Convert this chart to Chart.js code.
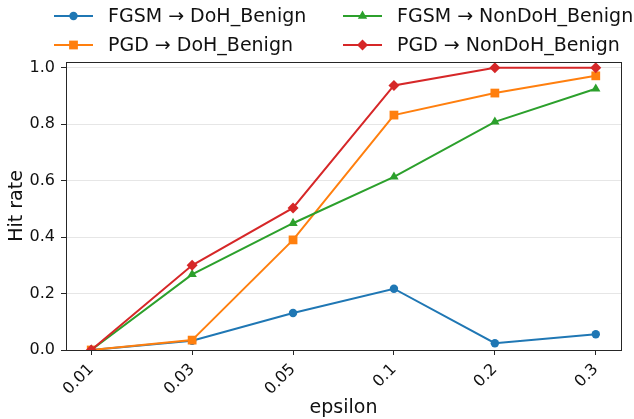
<!DOCTYPE html>
<html>
<head>
<meta charset="utf-8">
<script src="https://cdn.jsdelivr.net/npm/chart.js@4/dist/chart.umd.min.js"></script>
<style>
  html, body { margin: 0; padding: 0; background: #fff; }
  #wrap { width: 634px; height: 419px; }
</style>
</head>
<body>
<div id="wrap"><canvas id="c" width="634" height="419"></canvas></div>
<script>
// epsilon values on the x axis
const epsLabels = ['0.01', '0.03', '0.05', '0.1', '0.2', '0.3'];

// hit rates
const fgsmDoh = [0.0, 0.033, 0.131, 0.217, 0.024, 0.056];
const pgdDoh = [0.0, 0.035, 0.390, 0.832, 0.910, 0.971];
const fgsmNonDoh = [0.0, 0.268, 0.449, 0.613, 0.808, 0.925];
const pgdNonDoh = [0.0, 0.300, 0.503, 0.937, 1.0, 1.0];

const yTicks = [0, 0.2, 0.4, 0.6, 0.8, 1.0];

const FONT = 'DejaVu Sans';

function toPoints(arr) {
    return arr.map((v, i) => ({ x: i, y: v }));
}

function series(label, values, color, style, radius, order) {
    return {
        label: label,
        data: toPoints(values),
        borderColor: color,
        backgroundColor: color,
        borderWidth: 2,
        pointStyle: style,
        pointRadius: radius,
        pointBorderWidth: 0,
        pointHoverRadius: radius,
        fill: false,
        tension: 0,
        order: order
    };
}

const datasets = [
    series('FGSM → DoH_Benign', fgsmDoh, '#1f77b4', 'circle', 4.2, 3),
    series('PGD → DoH_Benign', pgdDoh, '#ff7f0e', 'rect', 6.2, 2),
    series('FGSM → NonDoH_Benign', fgsmNonDoh, '#2ca02c', 'triangle', 5.4, 1),
    series('PGD → NonDoH_Benign', pgdNonDoh, '#d62728', 'rectRot', 5.5, 0)
];

// legend slots, matplotlib ncol=2 (column-wise fill)
const legendSlots = [
    { x: 54, y: 16 }, { x: 54, y: 45 },
    { x: 343, y: 16 }, { x: 343, y: 45 }
];

const frameAndLegend = {
    id: 'frameAndLegend',
    afterDraw(chart) {
        const ctx = chart.ctx;
        const a = chart.chartArea;
        ctx.save();
        ctx.strokeStyle = '#262626';
        ctx.lineWidth = 1;
        ctx.strokeRect(Math.round(a.left) + 0.5, Math.round(a.top) + 0.5,
            Math.round(a.right - a.left), Math.round(a.bottom - a.top));

        ctx.font = '19px "' + FONT + '"';
        ctx.textBaseline = 'middle';
        chart.data.datasets.forEach((ds, i) => {
            const s = legendSlots[i];
            ctx.strokeStyle = ds.borderColor;
            ctx.lineWidth = 2;
            ctx.beginPath();
            ctx.moveTo(s.x, s.y);
            ctx.lineTo(s.x + 39, s.y);
            ctx.stroke();
            ctx.fillStyle = ds.backgroundColor;
            Chart.helpers.drawPoint(ctx, {
                pointStyle: ds.pointStyle,
                radius: ds.pointRadius,
                borderWidth: 0
            }, s.x + 19.5, s.y);
            ctx.fillStyle = '#111';
            ctx.fillText(ds.label, s.x + 54, s.y + 1);
        });
        ctx.restore();
    }
};

new Chart(document.getElementById('c'), {
    type: 'line',
    data: { datasets: datasets },
    options: {
        responsive: false,
        animation: false,
        layout: { padding: { top: 62, right: 13, left: 0, bottom: 0 } },
        plugins: {
            legend: { display: false },
            tooltip: { enabled: false }
        },
        scales: {
            x: {
                type: 'linear',
                min: -0.25,
                max: 5.25,
                afterBuildTicks: (scale) => {
                    scale.ticks = epsLabels.map((_, i) => ({ value: i }));
                },
                afterFit: (scale) => { scale.height = 69; },
                ticks: {
                    autoSkip: false,
                    maxRotation: 45,
                    minRotation: 45,
                    color: '#111',
                    padding: 5,
                    font: { family: FONT, size: 16 },
                    callback: (v) => epsLabels[v]
                },
                grid: {
                    drawOnChartArea: false,
                    drawTicks: true,
                    tickLength: 5,
                    tickColor: '#262626'
                },
                border: { display: true, color: '#262626' },
                title: {
                    display: true,
                    text: 'epsilon',
                    color: '#111',
                    padding: 0,
                    font: { family: FONT, size: 19 }
                }
            },
            y: {
                min: 0,
                max: 1.02,
                afterBuildTicks: (scale) => {
                    scale.ticks = yTicks.map(v => ({ value: v }));
                },
                afterFit: (scale) => { scale.width = 66; },
                ticks: {
                    color: '#111',
                    padding: 6,
                    font: { family: FONT, size: 16 },
                    callback: (v) => v.toFixed(1)
                },
                grid: {
                    color: '#e6e6e6',
                    lineWidth: 1,
                    tickLength: 5,
                    tickColor: '#262626'
                },
                border: { display: true, color: '#262626' },
                title: {
                    display: true,
                    text: 'Hit rate',
                    color: '#111',
                    padding: { top: 6, bottom: 0 },
                    font: { family: FONT, size: 19 }
                }
            }
        }
    },
    plugins: [frameAndLegend]
});
</script>
</body>
</html>
